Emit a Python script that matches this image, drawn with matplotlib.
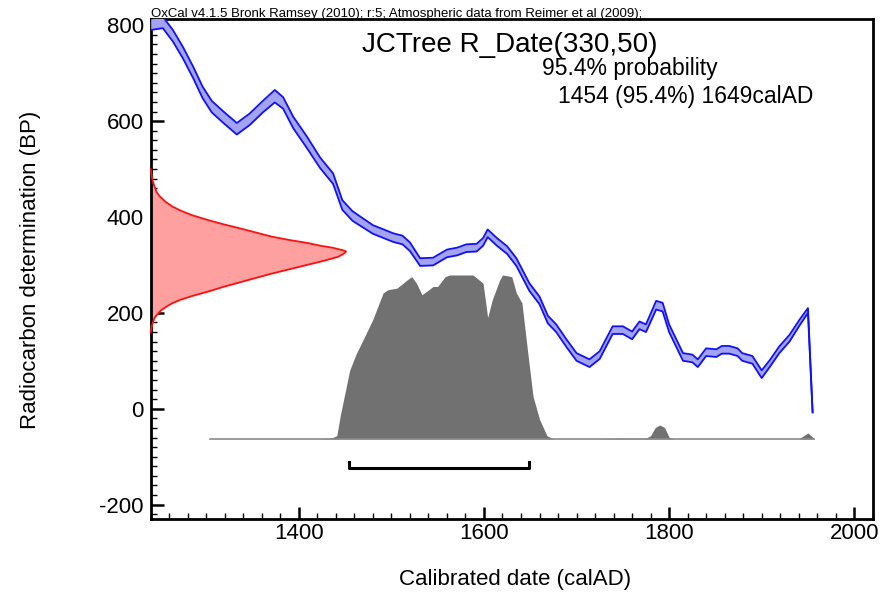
import matplotlib
matplotlib.use("Agg")
import matplotlib.pyplot as plt
import numpy as np
from matplotlib.ticker import MultipleLocator

plt.rcParams['font.family'] = ['Liberation Sans', 'DejaVu Sans']
plt.rcParams['axes.unicode_minus'] = False

# Calibration curve (IntCal09): calendar year AD, radiocarbon BP, half band width
cal_year = [1240, 1253, 1264, 1275, 1286, 1296, 1306, 1318, 1333, 1347, 1361, 1374,
            1383, 1394, 1409, 1423, 1437, 1447, 1458, 1480, 1502, 1512, 1520, 1531,
            1545, 1560, 1571, 1581, 1592, 1599, 1604, 1614, 1625, 1635, 1649, 1660,
            1669, 1678, 1689, 1700, 1714, 1725, 1739, 1750, 1760, 1768, 1775, 1786,
            1793, 1800, 1815, 1825, 1831, 1840, 1851, 1857, 1865, 1874, 1879, 1890,
            1900, 1909, 1919, 1930, 1941, 1950, 1955]
cal_bp = [802, 806, 778, 742, 701, 660, 630, 609, 584, 604, 630, 652,
          638, 597, 555, 513, 480, 425, 402, 374, 357, 352, 338, 306,
          307, 324, 328, 335, 336, 348, 366, 348, 331, 306, 254, 226,
          186, 168, 137, 108, 95, 112, 164, 164, 153, 174, 168, 216,
          212, 168, 108, 105, 95, 118, 116, 123, 123, 118, 108, 102,
          72, 95, 123, 147, 180, 205, -7]
cal_err = [12, 12, 12, 12, 12, 12, 12, 12, 12, 12, 12, 13,
           12, 12, 12, 11, 11, 10, 10, 9, 9, 9, 9, 8,
           8, 8, 8, 8, 8, 8, 8, 8, 8, 8, 8, 8,
           8, 8, 8, 8, 8, 8, 8, 8, 8, 8, 8, 9,
           9, 8, 8, 8, 8, 8, 8, 8, 8, 8, 8, 8,
           8, 7, 7, 7, 6, 5, 1]

# Radiocarbon measurement R_Date(330,50): BP and relative likelihood
date_bp = [500, 490, 475, 463, 452, 443, 432, 422, 413, 404, 394, 385, 377, 368,
           359, 352, 346, 340, 336, 330, 328, 324, 317, 308, 300, 291, 282, 272,
           263, 254, 244, 235, 227, 220, 213, 206, 200, 190, 179, 170, 160]
date_prob = [0.0, 0.003, 0.01, 0.02, 0.03, 0.046, 0.075, 0.11, 0.155, 0.21, 0.29, 0.37,
             0.45, 0.535, 0.62, 0.71, 0.80, 0.87, 0.93, 0.99, 1.0, 0.99, 0.96, 0.88,
             0.80, 0.71, 0.62, 0.53, 0.45, 0.37, 0.29, 0.21, 0.15, 0.11, 0.08, 0.055,
             0.04, 0.02, 0.01, 0.004, 0.0]

# Calibrated date distribution: calendar year AD and relative probability
post_year = [1304, 1420, 1435, 1441, 1445, 1455, 1462, 1469, 1480, 1491, 1496, 1506,
             1517, 1522, 1527, 1533, 1538, 1545, 1550, 1558, 1563, 1588, 1599, 1604,
             1609, 1617, 1620, 1630, 1635, 1641, 1647, 1653, 1660, 1668, 1675, 1720,
             1750, 1775, 1780, 1785, 1790, 1795, 1800, 1805, 1940, 1950, 1957]
post_prob = [0.0, 0.0, 0.005, 0.02, 0.15, 0.42, 0.52, 0.60, 0.73, 0.89, 0.91, 0.92,
             0.97, 0.99, 0.95, 0.88, 0.90, 0.93, 0.93, 0.99, 1.0, 1.0, 0.95, 0.74,
             0.85, 0.97, 1.0, 0.99, 0.89, 0.83, 0.54, 0.26, 0.12, 0.02, 0.0, 0.0,
             0.005, 0.005, 0.02, 0.07, 0.085, 0.07, 0.01, 0.0, 0.0, 0.037, 0.0]

range_start, range_end = 1454, 1649

xlim = (1240, 2020)
ylim = (-230, 813)

fig = plt.figure(figsize=(8.83, 5.96), dpi=100)
ax = fig.add_axes([0.1707, 0.1292, 0.8177, 0.8389])
ax.set_xlim(*xlim)
ax.set_ylim(*ylim)

# Red likelihood on y axis
dp = np.array(date_prob)
red_w = 211
ax.fill_betweenx(date_bp, xlim[0], xlim[0] + dp * red_w, color='#ffa0a0', lw=0, zorder=2)
ax.plot(xlim[0] + dp * red_w, date_bp, color='#ff1010', lw=1.3, zorder=3, clip_on=False)

# Calibrated distribution
pp = np.array(post_prob)
base = -63
hgt = 342
ax.fill_between(post_year, base, base + pp * hgt, color='#717171', lw=0, zorder=2)
ax.plot([post_year[0], post_year[-1]], [base, base], color='#8a8a8a', lw=1.2, zorder=2)

# Calibration curve band
cy = np.array(cal_year)
cb = np.array(cal_bp)
ce = np.array(cal_err)
ax.fill_between(cy, cb - ce, cb + ce, color='#a3a3f2', lw=0, zorder=3)
ax.plot(cy, cb + ce, color='#1010ff', lw=1.3, zorder=4)
ax.plot(cy, cb - ce, color='#1010ff', lw=1.3, zorder=4)

# 95.4% range bracket
ax.plot([range_start, range_start, range_end, range_end], [-112, -124, -124, -112],
        color='black', lw=2.2, zorder=4)

# Axes styling
for s in ax.spines.values():
    s.set_linewidth(2)
ax.xaxis.set_major_locator(MultipleLocator(200))
ax.xaxis.set_minor_locator(MultipleLocator(20))
ax.yaxis.set_major_locator(MultipleLocator(200))
ax.yaxis.set_minor_locator(MultipleLocator(20))
ax.tick_params(which='major', direction='in', length=9, width=1.8, labelsize=16,
               top=False, right=False)
ax.tick_params(which='minor', direction='in', length=4.5, width=1, top=False, right=False)
ax.tick_params(axis='y', which='major', pad=5)
ax.tick_params(axis='x', which='major', pad=3)

# Texts
fig.text(0.171, 0.9715, 'OxCal v4.1.5 Bronk Ramsey (2010); r:5; Atmospheric data from Reimer et al (2009);',
         fontsize=9.5, ha='left', va='baseline')
ax.text(0.293, 0.934, 'JCTree R_Date(330,50)', transform=ax.transAxes, fontsize=20,
        ha='left', va='baseline')
ax.text(0.542, 0.888, '95.4% probability', transform=ax.transAxes, fontsize=16.5,
        ha='left', va='baseline')
ax.text(0.564, 0.833, '1454 (95.4%) 1649calAD', transform=ax.transAxes, fontsize=16.5,
        ha='left', va='baseline')

fig.text(0.035, 0.547, 'Radiocarbon determination (BP)', rotation=90, fontsize=16,
         ha='center', va='center')
fig.text(0.583, 0.027, 'Calibrated date (calAD)', fontsize=16, ha='center', va='center')

fig.savefig('out.png', dpi=100)
